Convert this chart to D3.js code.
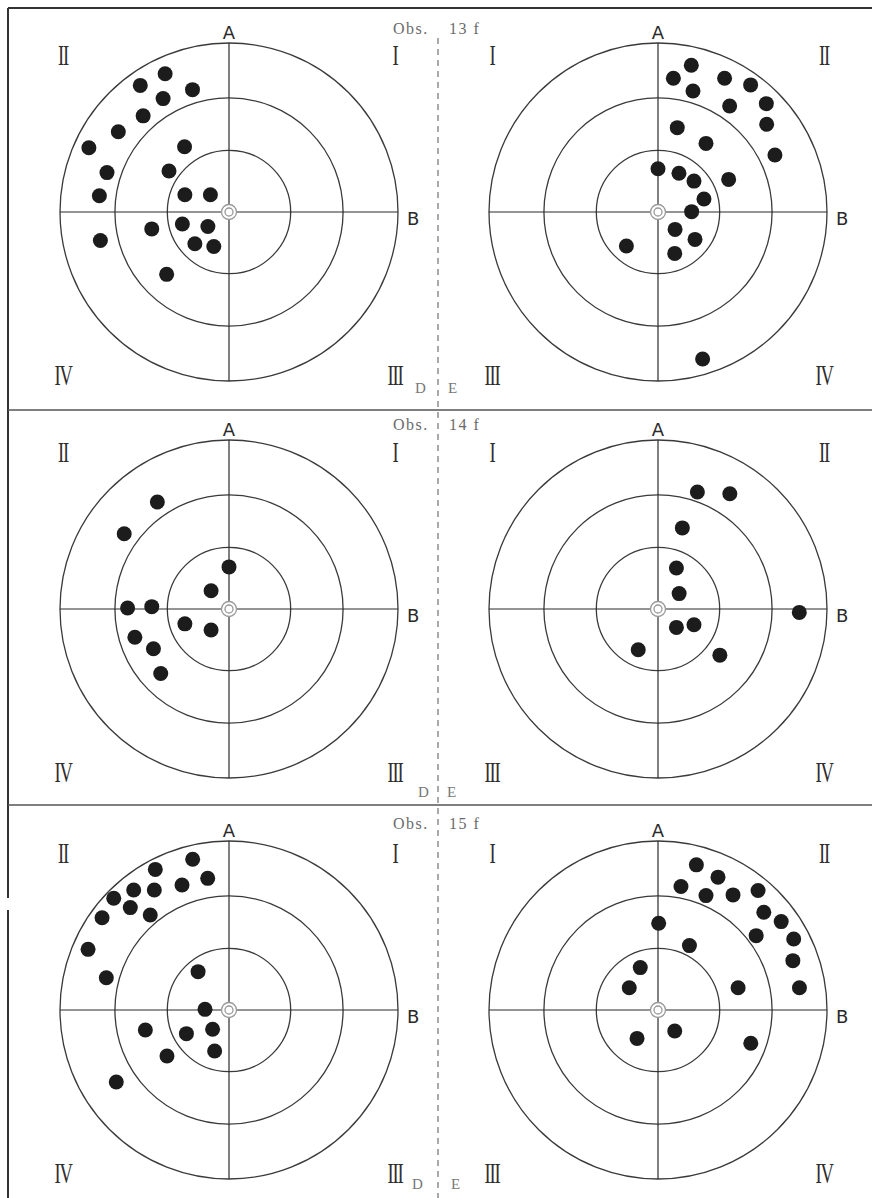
<!DOCTYPE html>
<html>
<head>
<meta charset="utf-8">
<script src="https://cdn.jsdelivr.net/npm/d3@7"></script>
<style>
  body { margin: 0; background: #fff; }
  svg { display: block; }
</style>
</head>
<body>
<svg width="872" height="1198"></svg>
<script>
// observation labels, one per row
var obsLabels = ["13 f", "14 f", "15 f"];
// ring radii, in the same units as the dots (outer ring = 10)
var rings = [3.65, 6.75, 10];
// quadrant numerals: [top-left, top-right, bottom-left, bottom-right]
var quadLeft = ["II", "I", "IV", "III"];
var quadRight = ["I", "II", "III", "IV"];

// dot positions [x, y], y up, per observation, D side (left) and E side (right)
var obs13D = [[-3.78, 8.18], [-5.25, 7.49], [-2.16, 7.24], [-3.90, 6.71], [-5.08, 5.69],
    [-6.55, 4.75], [-8.29, 3.80], [-2.63, 3.86], [-7.22, 2.33], [-3.55, 2.43],
    [-7.67, 0.96], [-2.61, 1.02], [-1.10, 1.02], [-4.57, -1.00], [-2.76, -0.71],
    [-1.25, -0.86], [-2.02, -1.88], [-0.90, -2.04], [-7.61, -1.69], [-3.69, -3.69]];
var obs13E = [[1.97, 8.68], [0.91, 7.91], [3.94, 7.91], [5.48, 7.52], [2.07, 7.16],
    [4.24, 6.27], [6.41, 6.41], [6.43, 5.19], [1.14, 4.99], [2.84, 4.06],
    [6.92, 3.37], [0.00, 2.56], [1.24, 2.29], [2.13, 1.83], [4.18, 1.93],
    [2.72, 0.77], [1.99, 0.02], [1.01, -1.03], [2.19, -1.62], [-1.87, -2.01],
    [0.99, -2.45], [2.64, -8.70]];
var obs14D = [[-4.24, 6.33], [-6.20, 4.45], [0.00, 2.49], [-1.06, 1.08], [-6.00, 0.06],
    [-4.57, 0.14], [-2.61, -0.88], [-1.06, -1.24], [-5.57, -1.67], [-4.47, -2.35],
    [-4.04, -3.82]];
var obs14E = [[2.33, 6.92], [4.25, 6.82], [1.44, 4.80], [1.09, 2.43], [1.25, 0.91],
    [8.36, -0.20], [1.09, -1.09], [2.13, -0.93], [-1.17, -2.41], [3.66, -2.73]];
var obs15D = [[-2.15, 8.92], [-4.36, 8.32], [-1.26, 7.79], [-2.78, 7.40], [-5.64, 7.10],
    [-4.42, 7.10], [-6.82, 6.61], [-5.84, 6.06], [-4.66, 5.62], [-7.51, 5.46],
    [-8.34, 3.59], [-7.26, 1.91], [-1.83, 2.27], [-1.42, 0.04], [-4.95, -1.18],
    [-2.52, -1.40], [-0.97, -1.14], [-3.67, -2.72], [-0.85, -2.43], [-6.67, -4.26]];
var obs15E = [[2.27, 8.59], [3.55, 7.86], [1.36, 7.31], [2.84, 6.77], [4.44, 6.81],
    [5.92, 7.07], [6.26, 5.78], [7.29, 5.23], [5.81, 4.40], [8.03, 4.20],
    [0.04, 5.13], [1.86, 3.81], [7.98, 2.92], [-1.05, 2.51], [-1.70, 1.32],
    [4.74, 1.32], [8.37, 1.32], [0.99, -1.24], [-1.24, -1.68], [5.49, -1.97]];

var rowsD = [obs13D, obs14D, obs15D];
var rowsE = [obs13E, obs14E, obs15E];

var svg = d3.select("svg");
var R = 169;
var rowCy = [212, 609, 1010];
var colCx = [229, 658];
var ink = "#2a2a2a";

// frame
svg.append("line").attr("x1", 8).attr("x2", 872).attr("y1", 8).attr("y2", 8)
    .attr("stroke", "#333").attr("stroke-width", 2);
svg.append("line").attr("x1", 8).attr("x2", 8).attr("y1", 8).attr("y2", 898)
    .attr("stroke", "#333").attr("stroke-width", 2);
svg.append("line").attr("x1", 8).attr("x2", 8).attr("y1", 910).attr("y2", 1198)
    .attr("stroke", "#333").attr("stroke-width", 2);
[410, 805].forEach(function (y) {
    svg.append("line").attr("x1", 8).attr("x2", 872).attr("y1", y).attr("y2", y)
        .attr("stroke", "#555").attr("stroke-width", 1.4);
});
svg.append("line").attr("x1", 438).attr("x2", 438).attr("y1", 38).attr("y2", 1198)
    .attr("stroke", "#555").attr("stroke-width", 1).attr("stroke-dasharray", "6,5");

var drawPanel = function (cx, cy, dots, quads) {
    var x = d3.scaleLinear().domain([-10, 10]).range([cx - R, cx + R]);
    var y = d3.scaleLinear().domain([-10, 10]).range([cy + R, cy - R]);
    var r = d3.scaleLinear().domain([0, 10]).range([0, R]);
    var g = svg.append("g");

    g.selectAll("circle.ring").data(rings).enter().append("circle")
        .attr("class", "ring")
        .attr("cx", cx).attr("cy", cy)
        .attr("r", function (d) { return r(d); })
        .attr("fill", "none").attr("stroke", "#3a3a3a").attr("stroke-width", 1.3);

    g.append("line").attr("x1", x(-10)).attr("x2", x(10)).attr("y1", y(0)).attr("y2", y(0))
        .attr("stroke", ink).attr("stroke-width", 1.2);
    g.append("line").attr("x1", x(0)).attr("x2", x(0)).attr("y1", y(10)).attr("y2", y(-10))
        .attr("stroke", ink).attr("stroke-width", 1.2);

    // little bull's-eye at the centre
    g.append("circle").attr("cx", cx).attr("cy", cy).attr("r", 7.5)
        .attr("fill", "#fff").attr("stroke", "#999").attr("stroke-width", 1.3);
    g.append("circle").attr("cx", cx).attr("cy", cy).attr("r", 4)
        .attr("fill", "#fff").attr("stroke", "#999").attr("stroke-width", 1.3);

    g.selectAll("circle.dot").data(dots).enter().append("circle")
        .attr("class", "dot")
        .attr("cx", function (d) { return x(d[0]); })
        .attr("cy", function (d) { return y(d[1]); })
        .attr("r", 7.5)
        .attr("fill", "#1c1c1c");

    g.append("text").attr("x", x(0)).attr("y", y(10) - 4)
        .attr("text-anchor", "middle").attr("font-family", "DejaVu Sans")
        .attr("font-size", 18).attr("fill", ink).text("A");
    g.append("text").attr("x", x(10) + 9).attr("y", y(0) + 13)
        .attr("font-family", "DejaVu Sans")
        .attr("font-size", 18).attr("fill", ink).text("B");

    var qpos = [[-166, -147], [166, -147], [-166, 173], [166, 173]];
    qpos.forEach(function (p, i) {
        g.append("text")
            .attr("transform", "translate(" + (cx + p[0]) + "," + (cy + p[1]) + ") scale(0.62,1)")
            .attr("text-anchor", "middle")
            .attr("font-family", "Liberation Serif")
            .attr("font-size", 30)
            .attr("letter-spacing", -2)
            .attr("fill", "#2e2e2e")
            .text(quads[i]);
    });
};

rowCy.forEach(function (cy, i) {
    drawPanel(colCx[0], cy, rowsD[i], quadLeft);
    drawPanel(colCx[1], cy, rowsE[i], quadRight);
});

// observation headers
var obsY = [34, 430, 829];
obsLabels.forEach(function (lab, i) {
    svg.append("text").attr("x", 393).attr("y", obsY[i])
        .attr("font-family", "Liberation Serif").attr("font-size", 16)
        .attr("fill", "#6a6a6a").attr("letter-spacing", 1.5).text("Obs.");
    svg.append("text").attr("x", 449).attr("y", obsY[i])
        .attr("font-family", "Liberation Serif").attr("font-size", 16)
        .attr("fill", "#6a6a6a").attr("letter-spacing", 1.5).text(lab);
});

// D / E markers at the foot of each row
var dePos = [[415, 448, 393], [418, 447, 797], [412, 451, 1189]];
dePos.forEach(function (p) {
    svg.append("text").attr("x", p[0]).attr("y", p[2])
        .attr("font-family", "Liberation Serif").attr("font-size", 15)
        .attr("fill", "#777").text("D");
    svg.append("text").attr("x", p[1]).attr("y", p[2])
        .attr("font-family", "Liberation Serif").attr("font-size", 15)
        .attr("fill", "#777").text("E");
});
</script>
</body>
</html>
